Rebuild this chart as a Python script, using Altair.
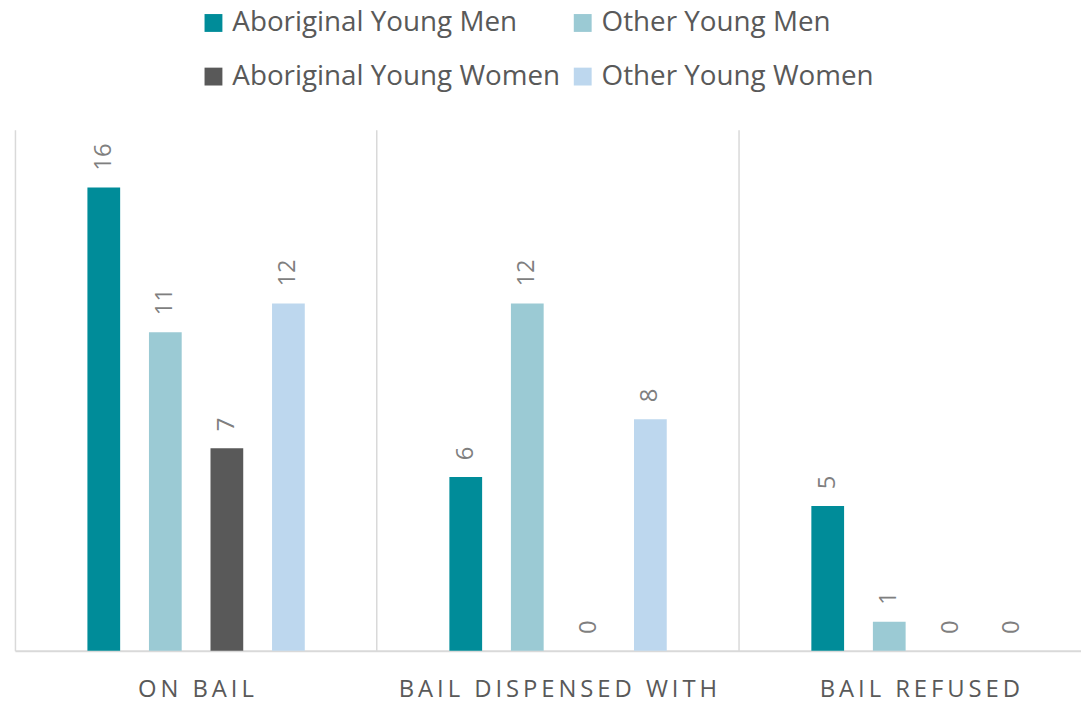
import altair as alt
import pandas as pd

categories = ["ON BAIL", "BAIL DISPENSED WITH", "BAIL REFUSED"]
series = ["Aboriginal Young Men", "Other Young Men", "Aboriginal Young Women", "Other Young Women"]
aboriginal_men = [16, 6, 5]
other_men = [11, 12, 1]
aboriginal_women = [7, 0, 0]
other_women = [12, 8, 0]
colors = ["#008C99", "#9BCAD4", "#595959", "#BDD7EE"]

rows = []
for i, c in enumerate(categories):
    for s, vals in zip(series, [aboriginal_men, other_men, aboriginal_women, other_women]):
        rows.append({"category": c, "series": s, "value": vals[i]})
df = pd.DataFrame(rows)

FONT = "Open Sans"

x = alt.X(
    "category:N",
    sort=categories,
    scale=alt.Scale(range=[0, 1094], paddingInner=0, paddingOuter=0),
    axis=alt.Axis(
        title=None,
        labelAngle=0,
        labelFont=FONT,
        labelFontSize=24,
        labelColor="#595959",
        labelPadding=27,
        labelLimit=0,
        labelExpr="join(split(datum.label, ''), '\u2009')",
        ticks=False,
        tickSize=0,
        grid=True,
        gridColor="#d9d9d9",
        gridWidth=1.5,
        bandPosition=0,
        domainColor="#d9d9d9",
        domainWidth=2,
    ),
)
xo = alt.XOffset(
    "series:N",
    sort=series,
    scale=alt.Scale(range=[58.5, 306.5], paddingInner=0.468, paddingOuter=0.234),
)
y = alt.Y("value:Q", scale=alt.Scale(domain=[0, 18], nice=False), axis=None)

bars = alt.Chart(df).mark_bar().encode(
    x=x,
    xOffset=xo,
    y=y,
    color=alt.Color(
        "series:N",
        sort=series,
        scale=alt.Scale(domain=series, range=colors),
        legend=alt.Legend(
            title=None,
            orient="none",
            direction="horizontal",
            legendX=186,
            legendY=-121.5,
            columns=2,
            symbolType="square",
            symbolSize=324,
            symbolStrokeWidth=0,
            labelFont=FONT,
            labelFontSize=28,
            labelColor="#595959",
            labelOffset=5,
            labelLimit=0,
            rowPadding=26,
            columnPadding=8,
            padding=0,
        ),
    ),
)

labels = alt.Chart(df).mark_text(
    angle=270,
    align="left",
    baseline="middle",
    dx=17,
    font=FONT,
    fontSize=24,
    color="#7F7F7F",
).encode(
    x=alt.X("category:N", sort=categories),
    xOffset=alt.XOffset("series:N", sort=series),
    y=alt.Y("value:Q", axis=None),
    text=alt.Text("value:Q"),
)

chart = (
    alt.layer(bars, labels)
    .properties(
        width=1074,
        height=525,
        padding={"left": 7, "top": 120, "right": 0, "bottom": 50},
        autosize=alt.AutoSizeParams(type="none"),
        background="white",
    )
    .configure_view(stroke=None, strokeWidth=0)
)

chart.save("out.html", embed_options={"renderer": "svg", "actions": False})
